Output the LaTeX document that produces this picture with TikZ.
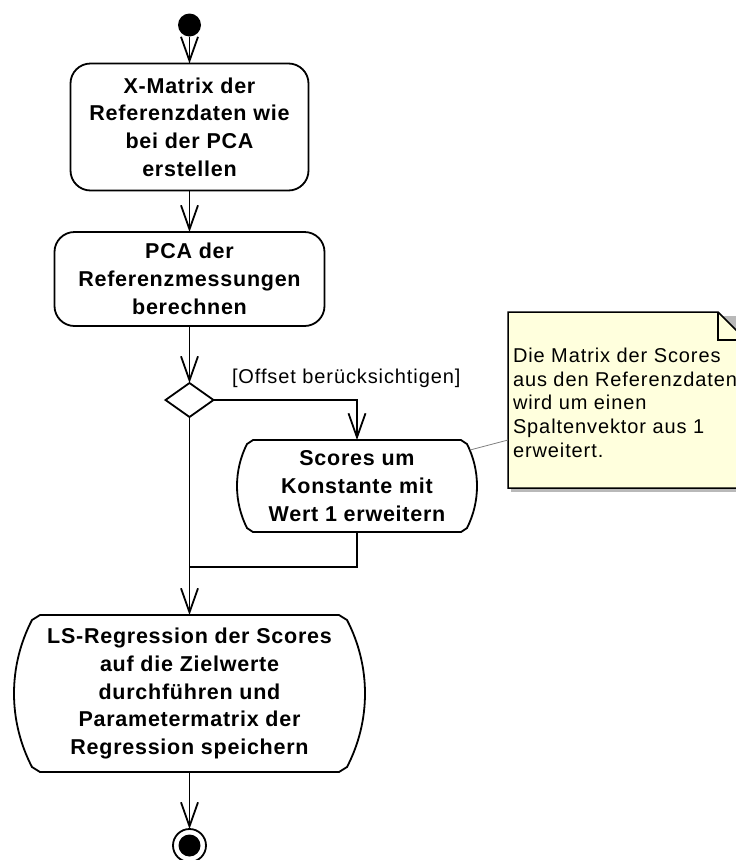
\documentclass[tikz,border=0pt]{standalone}
\usepackage{fontspec}
\setmainfont{Liberation Sans}
\newfontfamily\actfont[LetterSpace=3.5]{Liberation Sans}
\newfontfamily\notefont[LetterSpace=4.5]{Liberation Sans}
\usetikzlibrary{arrows.meta,shapes.geometric,calc}
\definecolor{noteyellow}{RGB}{255,255,221}

% outline of an action state whose sides bulge out as arcs:
% #1 node, #2 inset of the straight edges, #3/#4 inset/depth of the corner bevel,
% #5/#6 first control offset of each arc, #7 control length at the widest point
\newcommand{\bulgeoutline}[7]{%
  \draw[wire] ($(#1.north west)+(#2,0)$) -- ($(#1.north east)+(-#2,0)$)
    -- ($(#1.north east)+(-#3,#4)$)
    .. controls ($(#1.north east)+(-#3+#5,#4+#6)$) and ($(#1.east)+(0,-#7)$) .. (#1.east)
    .. controls ($(#1.east)+(0,#7)$) and ($(#1.south east)+(-#3+#5,-#4-#6)$) .. ($(#1.south east)+(-#3,-#4)$)
    -- ($(#1.south east)+(-#2,0)$) -- ($(#1.south west)+(#2,0)$)
    -- ($(#1.south west)+(#3,-#4)$)
    .. controls ($(#1.south west)+(#3-#5,-#4-#6)$) and ($(#1.west)+(0,#7)$) .. (#1.west)
    .. controls ($(#1.west)+(0,-#7)$) and ($(#1.north west)+(#3-#5,#4+#6)$) .. ($(#1.north west)+(#3,#4)$)
    -- cycle;}

\begin{document}
\begin{tikzpicture}[x=1pt,y=-1pt,
  every node/.style={inner sep=0pt, outer sep=0pt},
  acttext/.style={font=\actfont\bfseries\fontsize{21.5}{27.7}\selectfont, align=center},
  roundact/.style={acttext, draw, line width=1.8pt, rounded corners=20pt, rectangle},
  curvedact/.style={acttext, rectangle},
  plaintext/.style={font=\notefont\fontsize{20}{23.7}\selectfont},
  wire/.style={line width=1.8pt},
  flow/.style={wire, -{Straight Barb[length=24pt,width=17pt,line width=1.8pt]}},
  notelink/.style={gray, line width=0.8pt},
  noteline/.style={line width=1.5pt}
]
\useasboundingbox (0,0) rectangle (736,860);
\clip (0,0) rectangle (736,860);

% action states
\node[circle, fill, minimum size=23pt] (start) at (189.5,25) {};
\node[roundact, minimum width=238pt, minimum height=127pt] (mat) at (189.5,127)
  {X-Matrix der\\Referenzdaten wie\\bei der PCA\\erstellen};
\node[roundact, minimum width=270pt, minimum height=94pt] (pca) at (189.5,279)
  {PCA der\\Referenzmessungen\\berechnen};
\node[diamond, draw, line width=1.8pt, minimum width=48pt, minimum height=34pt] (dec) at (189.5,400) {};
\node[plaintext, anchor=base west] (guard) at (232,383) {[Offset berücksichtigen]};
\node[curvedact, minimum width=240pt, minimum height=92pt] (sco) at (357,486)
  {Scores um\\Konstante mit\\Wert 1 erweitern};
\bulgeoutline{sco}{16}{10}{4}{6.6}{13}{14.6}
\coordinate (join) at (189.5,567);
\node[curvedact, minimum width=351pt, minimum height=157pt] (ls) at (189.5,693.5)
  {LS-Regression der Scores\\auf die Zielwerte\\durchführen und\\Parametermatrix der\\Regression speichern};
\bulgeoutline{ls}{26}{18}{5}{11.8}{22.7}{25.6}
\node[circle, draw, line width=1.8pt, minimum size=33pt] (end) at (189.5,845.5) {};
\fill (end.center) circle (11pt);

% transitions
\draw[flow] (start.south) -- (mat.north);
\draw[flow] (mat.south) -- (pca.north);
\draw[flow] (pca.south) -- (dec.north);
\draw[flow] (dec.east) -| (sco.north);
\draw[wire] (sco.south) |- (join);
\draw[wire] (dec.south) -- (join);
\draw[flow] (join) -- (ls.north);
\draw[flow] (ls.south) -- (end.north);

% comment note with folded corner
\node[rectangle, minimum width=238pt, minimum height=176pt, anchor=north west] (notebox) at (508,312) {};
\fill[gray!55] ($(notebox.north west)+(3,4)$) -- ($(notebox.north east)+(3,4)$)
  -- ($(notebox.south east)+(3,4)$) -- ($(notebox.south west)+(3,4)$) -- cycle;
\filldraw[fill=noteyellow, noteline] (notebox.north west) -- ($(notebox.north east)+(-28,0)$)
  -- ($(notebox.north east)+(0,28)$) -- (notebox.south east) -- (notebox.south west) -- cycle;
\draw[noteline] ($(notebox.north east)+(-28,0)$) -- ($(notebox.north east)+(-28,28)$)
  -- ($(notebox.north east)+(0,28)$);
\node[plaintext, align=left, anchor=north west] (notetext) at (513,348)
  {Die Matrix der Scores\\aus den Referenzdaten\\wird um einen\\Spaltenvektor aus 1\\erweitert.};
\draw[notelink] ($(sco.east)+(-7,-36)$) -- ($(notebox.west)+(0,40)$);
\end{tikzpicture}
\end{document}
